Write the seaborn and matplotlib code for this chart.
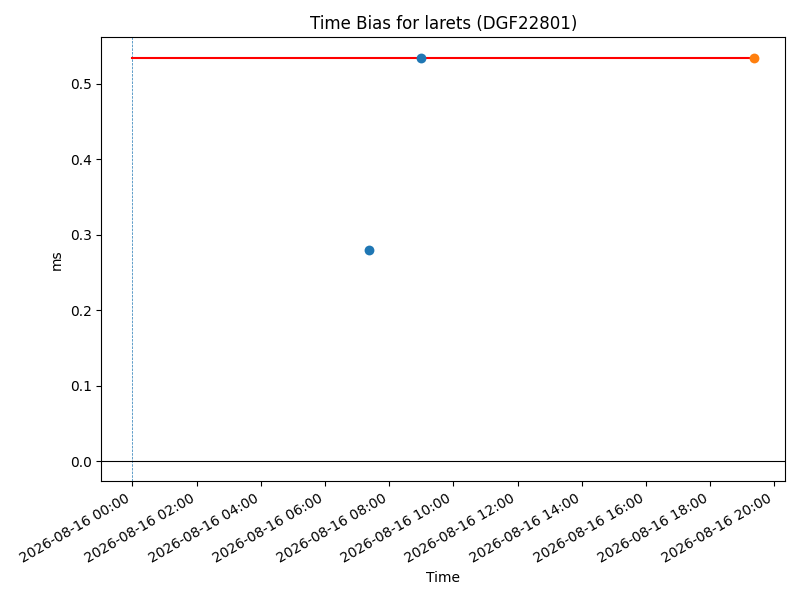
import matplotlib
matplotlib.use("Agg")
import matplotlib.pyplot as plt
import matplotlib.dates as mdates
import pandas as pd
import seaborn as sns

# Data
series_a_times = ["2026-08-16 07:22", "2026-08-16 09:00"]
series_a_values = [0.280, 0.535]
series_b_times = ["2026-08-16 19:22"]
series_b_values = [0.535]
ref_line_times = ["2026-08-16 00:00", "2026-08-16 19:22"]
ref_line_values = [0.535, 0.535]
start_time = "2026-08-16 00:00"

df_a = pd.DataFrame({"Time": pd.to_datetime(series_a_times), "ms": series_a_values})
df_b = pd.DataFrame({"Time": pd.to_datetime(series_b_times), "ms": series_b_values})
df_ref = pd.DataFrame({"Time": pd.to_datetime(ref_line_times), "ms": ref_line_values})

fig, ax = plt.subplots(figsize=(8, 6), dpi=100)

ax.axvline(pd.to_datetime(start_time), color="C0", linestyle="--", linewidth=0.5)
ax.axhline(0, color="black", linewidth=0.8)
sns.lineplot(data=df_ref, x="Time", y="ms", color="red", linewidth=1.5, ax=ax)
sns.scatterplot(data=df_a, x="Time", y="ms", color="C0", s=50, linewidth=0, ax=ax, zorder=3)
sns.scatterplot(data=df_b, x="Time", y="ms", color="C1", s=50, linewidth=0, ax=ax, zorder=3)

ax.xaxis.set_major_locator(mdates.HourLocator(byhour=range(0, 24, 2)))
ax.xaxis.set_major_formatter(mdates.DateFormatter("%Y-%m-%d %H:%M"))
ax.set_title("Time Bias for larets (DGF22801)")
ax.set_xlabel("Time")
ax.set_ylabel("ms")
fig.autofmt_xdate()
fig.tight_layout()
fig.savefig("out.png", dpi=100)
